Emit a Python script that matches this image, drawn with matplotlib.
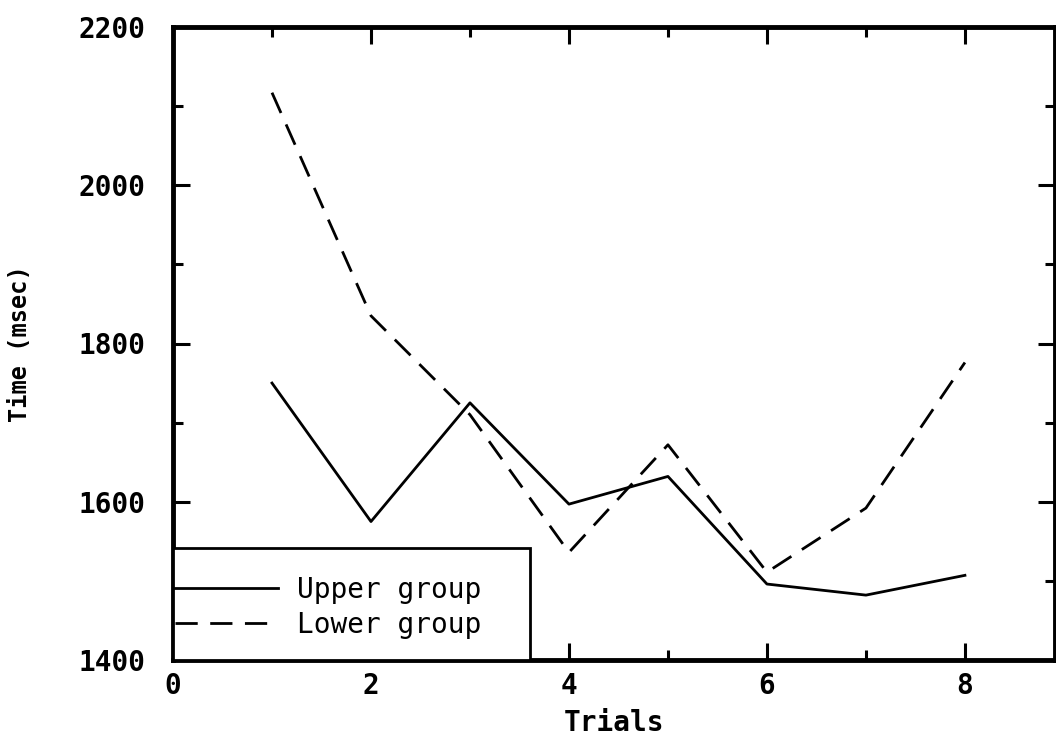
import matplotlib
matplotlib.use("Agg")
import matplotlib.pyplot as plt
from matplotlib.ticker import MultipleLocator
from matplotlib.patches import Rectangle

# trial numbers and mean times (msec)
trials = [1, 2, 3, 4, 5, 6, 7, 8]
upper_group = [1750, 1575, 1725, 1597, 1632, 1496, 1482, 1507]
lower_group = [2117, 1835, 1710, 1536, 1672, 1511, 1592, 1776]

mono = "DejaVu Sans Mono"

fig = plt.figure(figsize=(10.56, 7.41), dpi=100)
ax = fig.add_axes([173/1056, 81/741, 882/1056, 633/741])

ax.plot(trials, upper_group, "-", color="black", lw=2.0, label="Upper group")
ax.plot(trials, lower_group, color="black", lw=2.0, dashes=(8, 4.5),
        label="Lower group")

ax.set_xlim(0, 8.91)
ax.set_ylim(1400, 2200)

ax.xaxis.set_major_locator(MultipleLocator(2))
ax.xaxis.set_minor_locator(MultipleLocator(1))
ax.yaxis.set_major_locator(MultipleLocator(200))
ax.yaxis.set_minor_locator(MultipleLocator(100))

ax.tick_params(which="both", direction="in", top=True, right=True,
               color="black", width=2.2)
ax.tick_params(which="major", length=12)
ax.tick_params(which="minor", length=7)
ax.tick_params(axis="y", which="major", pad=20)
ax.tick_params(axis="x", which="major", pad=9)

for lab in ax.get_xticklabels() + ax.get_yticklabels():
    lab.set_family(mono)
    lab.set_fontweight("bold")
    lab.set_fontsize(20)

for s in ax.spines.values():
    s.set_linewidth(3.5)
    s.set_color("black")

ax.set_xlabel("Trials", family=mono, fontweight="bold", fontsize=20, labelpad=6)
ax.set_ylabel("Time (msec)", family=mono, fontweight="bold", fontsize=17)
ax.yaxis.set_label_coords(-0.16, 0.5)

# legend box: square frame in the lower left corner
box = Rectangle((0, 0), 0.405, 0.177, transform=ax.transAxes,
                facecolor="white", edgecolor="black", lw=2.0, zorder=4)
ax.add_patch(box)
leg = ax.legend(loc="lower left", bbox_to_anchor=(0, 0.03),
                borderaxespad=0, frameon=False, handlelength=3.7,
                handletextpad=0.68, labelspacing=0.25, borderpad=0.08,
                prop={"family": mono, "size": 20})
leg.set_zorder(5)

fig.savefig("out.png", dpi=100)
